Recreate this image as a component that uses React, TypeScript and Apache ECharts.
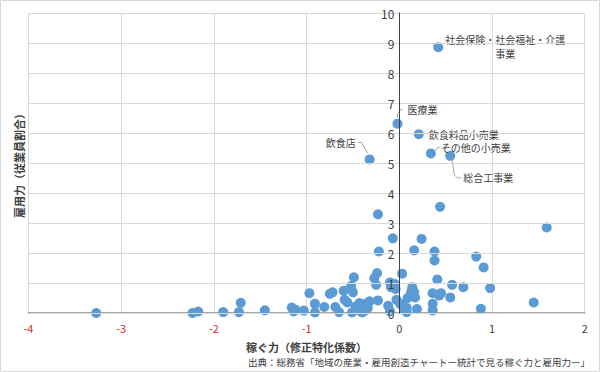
import React, { useEffect, useRef } from "react";
import * as echarts from "echarts";

// 稼ぐ力（修正特化係数） values of the unlabeled industries
const plainX = [
  -3.27, -2.23, -2.17, -1.9, -1.73, -1.71, -1.45, -1.16, -1.14, -1.12, -1.03, -0.97,
  -0.91, -0.91, -0.81, -0.75, -0.72, -0.69, -0.65, -0.6, -0.59, -0.56, -0.52, -0.49,
  -0.5, -0.51, -0.47, -0.45, -0.43, -0.42, -0.39, -0.36, -0.34, -0.32, -0.4, -0.37,
  -0.46, -0.27, -0.25, -0.24, -0.23, -0.22, -0.23, -0.1, -0.09, -0.07, -0.12, -0.1,
  -0.05, -0.04, -0.03, 0.01, 0.03, 0.05, 0.08, 0.09, 0.13, 0.14, 0.16, 0.17, 0.19,
  0.24, 0.36, 0.36, 0.36, 0.38, 0.38, 0.41, 0.43, 0.45, 0.44, 0.55, 0.57, 0.69, 0.83,
  0.88, 0.91, 0.98, 1.45, 1.59, 0.12, 0.16, 0.08, 0.03,
];
// 雇用力（従業員割合） values of the unlabeled industries
const plainY = [
  0, 0, 0.05, 0.03, 0.03, 0.34, 0.09, 0.18, 0.05, 0.11, 0.08, 0.66,
  0.31, 0.02, 0.2, 0.64, 0.69, 0.2, 0.03, 0.74, 0.44, 0.35, 0.9, 1.19,
  0.69, 0.02, 0.22, 0.13, 0.33, 0.06, 0.22, 0.31, 0.17, 0.39, 0.02, 0.08,
  0.17, 1.16, 0.94, 1.33, 3.29, 2.05, 0.42, 1.02, 0.86, 2.49, 0.24, 0.06,
  0.97, 0.8, 0.44, 0.31, 1.31, 0.11, 0.03, 0.5, 0.72, 0.86, 2.09, 0.52, 0.13,
  2.47, 0.66, 0.31, 0.09, 2.05, 1.75, 1.12, 0.58, 0.66, 3.54, 0.52, 0.94, 0.86, 1.88,
  0.14, 1.52, 0.83, 0.35, 2.85, 0.62, 0.7, 0.17, 0.27,
];

// labeled industries
const labeledNames = [
  "社会保険・社会福祉・介護\n事業",
  "医療業",
  "飲食料品小売業",
  "その他の小売業",
  "総合工事業",
  "飲食店",
];
const labeledX = [0.42, -0.02, 0.21, 0.34, 0.55, -0.32];
const labeledY = [8.86, 6.31, 5.96, 5.32, 5.24, 5.12];

const xTicks = [-4, -3, -2, -1, 0, 1, 2];
const yTicks = [0, 1, 2, 3, 4, 5, 6, 7, 8, 9, 10];

// label placement (offsets from the point centre) – layout only
const labelLayouts = [
  { dx: 67, dy: -0.5, align: "center", lh: 14 },
  { dx: 10, dy: -14, align: "left", lh: 12 },
  { dx: 10, dy: 0, align: "left", lh: 12 },
  { dx: 10, dy: -6, align: "left", lh: 12 },
  { dx: 13, dy: 22, align: "left", lh: 12 },
  { dx: -14, dy: -17, align: "right", lh: 12 },
];
// leader-line shapes relative to the point centre – layout only
const leaderShapes: number[][][] = [
  [],
  [[0, -6], [0, -10], [3, -14], [5, -14]],
  [],
  [[5, -3], [7, -6], [9, -6]],
  [[2, 5], [4, 19], [7, 22], [11, 22]],
  [[-12, -17], [-8, -17], [-2, -6]],
];

const FONT = '"Noto Sans CJK JP", "Noto Sans", sans-serif';
const DOT = "#5B9BD5";
const GRID = { left: 28.5, right: 15.3, top: 13, bottom: 59 };

export default function App() {
  const ref = useRef<HTMLDivElement>(null);
  useEffect(() => {
    if (!ref.current) return;
    const chart = echarts.init(ref.current, undefined, { renderer: "svg" });
    const plainData = plainX.map((x, i) => [x, plainY[i]]);
    const labeledData = labeledNames.map((n, i) => ({
      name: n,
      value: [labeledX[i], labeledY[i]],
      label: { lineHeight: labelLayouts[i].lh },
    }));
    const plotW = 600 - GRID.left - GRID.right;
    const xMin = xTicks[0];
    const xMax = xTicks[xTicks.length - 1];
    const yAxisOffset = -((0 - xMin) / (xMax - xMin)) * plotW;
    chart.setOption({
      animation: false,
      textStyle: { fontFamily: FONT },
      grid: { ...GRID, outerBoundsMode: "none" },
      xAxis: {
        type: "value",
        min: xMin,
        max: xMax,
        interval: 1,
        name: "稼ぐ力（修正特化係数）",
        nameLocation: "middle",
        nameGap: 28,
        nameTextStyle: { fontSize: 11, fontWeight: "bold", color: "#404040", fontFamily: FONT },
        axisLine: { show: true, lineStyle: { color: "#8C8C8C", width: 1.5 } },
        axisTick: { show: false },
        axisLabel: {
          fontSize: 11,
          margin: 9,
          fontFamily: FONT,
          color: (v: any) => (Number(v) < 0 ? "#D42A2A" : "#404040"),
        },
        splitLine: { show: true, lineStyle: { color: "#D9D9D9", width: 1 } },
      },
      yAxis: {
        type: "value",
        min: yTicks[0],
        max: yTicks[yTicks.length - 1],
        interval: 1,
        offset: yAxisOffset,
        z: 3,
        axisLine: { show: true, onZero: false, lineStyle: { color: "#404040", width: 1 } },
        axisTick: { show: false },
        axisLabel: {
          fontSize: 12,
          margin: 5,
          color: "#404040",
          fontFamily: FONT,
          showMinLabel: true,
          showMaxLabel: true,
        },
        splitLine: { show: true, lineStyle: { color: "#D9D9D9", width: 1 } },
      },
      series: [
        {
          type: "scatter",
          data: plainData,
          symbolSize: 10,
          itemStyle: { color: DOT, opacity: 1 },
        },
        {
          type: "scatter",
          data: labeledData,
          symbolSize: 10,
          itemStyle: { color: DOT, opacity: 1 },
          label: {
            show: true,
            formatter: "{b}",
            fontSize: 10,
            color: "#404040",
            fontFamily: FONT,
            align: "center",
          },
          labelLayout: (p: any) => {
            const l = labelLayouts[p.dataIndex];
            const cx = p.rect.x + p.rect.width / 2;
            const cy = p.rect.y + p.rect.height / 2;
            return { x: cx + l.dx, y: cy + l.dy, align: l.align, verticalAlign: "middle" };
          },
        },
      ],
    });
    const leaders: any[] = [];
    labeledNames.forEach((_, i) => {
      const shape = leaderShapes[i];
      if (!shape.length) return;
      const c = chart.convertToPixel({ gridIndex: 0 }, [labeledX[i], labeledY[i]]) as number[];
      leaders.push({
        type: "polyline",
        silent: true,
        shape: { points: shape.map(([dx, dy]) => [c[0] + dx, c[1] + dy]) },
        style: { stroke: "#A6A6A6", lineWidth: 1, fill: "none" },
      });
    });
    chart.setOption({
      graphic: [
        {
          type: "rect",
          silent: true,
          shape: { x: 0.5, y: 0.5, width: 599, height: 371 },
          style: { fill: "none", stroke: "#D9D9D9", lineWidth: 1 },
        },
        {
          type: "text",
          x: 19,
          y: 163,
          rotation: Math.PI / 2,
          style: {
            text: "雇用力（従業員割合）",
            fontSize: 11,
            fontWeight: "bold",
            fill: "#404040",
            fontFamily: FONT,
            align: "center",
            verticalAlign: "middle",
          },
        },
        {
          type: "text",
          x: 590,
          y: 362,
          style: {
            text: "出典：総務省「地域の産業・雇用創造チャートー統計で見る稼ぐ力と雇用力ー」",
            fontSize: 9.5,
            fill: "#404040",
            fontFamily: FONT,
            align: "right",
            verticalAlign: "middle",
          },
        },
        ...leaders,
      ],
    });
    return () => chart.dispose();
  }, []);
  return (
    <div
      ref={ref}
      style={{ position: "fixed", left: 0, top: 0, width: 600, height: 372, background: "#fff" }}
    />
  );
}
